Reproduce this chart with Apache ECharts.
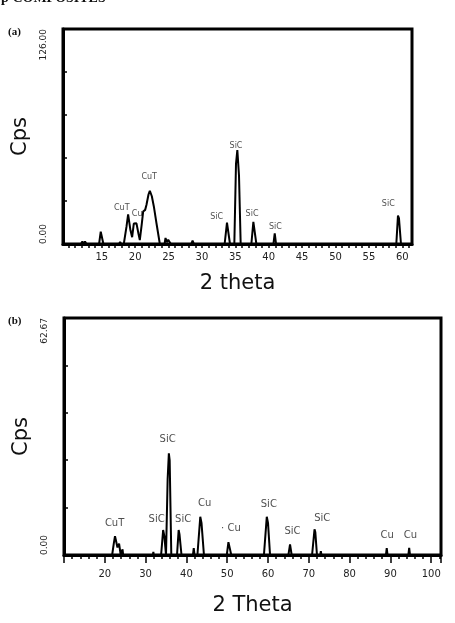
<!DOCTYPE html>
<html>
<head>
<meta charset="utf-8">
<script src="https://cdn.jsdelivr.net/npm/echarts@6/dist/echarts.min.js"></script>
<style>
  html, body { margin: 0; padding: 0; background: #fff; }
  #xrd { width: 455px; height: 623px; }
</style>
</head>
<body>
<div id="xrd"></div>
<script>
// ---- panel (a) pattern ----
var thetaA = [9.2, 11.9, 12.1, 12.3, 12.5, 12.7,
    14.6, 14.85, 15.0, 15.25,
    17.6, 17.75, 17.9,
    18.3, 18.7, 18.95, 19.3, 19.55, 19.8, 20.0, 20.2, 20.5, 20.7, 21.0, 21.2, 21.5, 21.7, 22.0, 22.2, 22.5, 22.8, 23.2, 23.7,
    24.4, 24.55, 24.75, 24.95, 25.15, 25.35,
    28.4, 28.6, 28.8,
    33.4, 33.75, 33.95, 34.2,
    34.85, 35.1, 35.3, 35.55, 35.8,
    37.4, 37.7, 37.85, 38.15,
    40.7, 40.9, 41.1,
    59.1, 59.35, 59.5, 59.8, 61.45];
var cpsA = [0, 0, 1.5, 0, 1.5, 0,
    0, 7.2, 6.5, 0,
    0, 1.2, 0,
    0, 10, 17.4, 8, 4, 12, 11.5, 12.1, 6, 2.3, 12, 19, 20, 23, 29, 31.2, 28, 22, 12, 0,
    0, 3.5, 1, 2.5, 3.5, 0,
    0, 2, 0,
    0, 12.5, 13, 0,
    0, 47, 55, 40, 0,
    0, 13, 12, 0,
    0, 6.3, 0,
    0, 16.6, 15, 0, 0];

var peakNamesA = ['CuT', 'Cu', 'CuT', 'SiC', 'SiC', 'SiC', 'SiC', 'SiC'];
var peakXA = [18.0, 20.3, 22.1, 32.2, 35.1, 37.5, 41.0, 57.9];
var peakYA = [20.9, 17.6, 39.1, 15.6, 57.4, 17.6, 9.8, 23.3];

// ---- panel (b) pattern ----
var thetaB = [10, 21.8, 22.2, 22.5, 22.8, 23.1, 23.5, 23.9, 24.2, 24.35, 24.5,
    31.8, 31.9, 32.0,
    33.8, 34.3, 34.6, 35.0, 35.4, 35.7, 35.9, 36.3,
    37.7, 38.1, 38.3, 38.8,
    41.6, 41.8, 42.0,
    42.7, 43.4, 43.7, 44.3,
    49.9, 50.3, 50.5, 51.0,
    59.0, 59.7, 60.0, 60.5,
    65.0, 65.4, 65.8,
    70.8, 71.4, 71.6, 72.0,
    72.8, 72.95, 73.1,
    88.9, 89.1, 89.3,
    94.4, 94.6, 94.8,
    102.4];
var cpsB = [0, 0, 3, 5, 3.5, 2, 3, 0, 0, 1.5, 0,
    0, 0.8, 0,
    0, 6.6, 5, 0, 20, 26.9, 25, 0,
    0, 6.6, 5.5, 0,
    0, 1.8, 0,
    0, 10.1, 8.5, 0,
    0, 3.4, 3, 0,
    0, 10.1, 8.5, 0,
    0, 2.8, 0,
    0, 6.8, 6, 0,
    0, 1, 0,
    0, 1.8, 0,
    0, 1.9, 0,
    0];

var peakNamesB = ['CuT', 'SiC', 'SiC', 'SiC', 'Cu', '· Cu', 'SiC', 'SiC', 'SiC', 'Cu', 'Cu'];
var peakXB = [22.4, 32.7, 35.4, 39.2, 44.5, 50.9, 60.2, 66.0, 73.3, 89.2, 94.9];
var peakYB = [8.4, 9.3, 30.6, 9.3, 13.7, 7.1, 13.3, 6.2, 9.7, 5.1, 5.1];

// tick positions
var labelsA = [15, 20, 25, 30, 35, 40, 45, 50, 55, 60];
var minorA = [];
for (var t = 10; t <= 61; t++) minorA.push(t);
var labelsB = [20, 30, 40, 50, 60, 70, 80, 90, 100];
var yMaxA = 126;
var yMaxB = 62.67;

function zip(xs, ys) {
    var out = [];
    for (var i = 0; i < xs.length; i++) out.push([xs[i], ys[i]]);
    return out;
}
function tags(names, xs, ys) {
    var out = [];
    for (var i = 0; i < names.length; i++) out.push({ name: names[i], value: [xs[i], ys[i]] });
    return out;
}

var font = 'DejaVu Sans';
var xrd = echarts.init(document.getElementById('xrd'));

var option = {
    backgroundColor: '#fff',
    animation: false,
    graphic: [
        { type: 'text', left: -9, top: -9, style: { text: 'Cp COMPOSITES', font: 'bold 14px "Liberation Serif"', fill: '#111' } },
        { type: 'text', left: 8, top: 27, style: { text: '(a)', font: 'bold 11px "Liberation Serif"', fill: '#111' } },
        { type: 'text', left: 8, top: 316, style: { text: '(b)', font: 'bold 11px "Liberation Serif"', fill: '#111' } }
    ],
    grid: [
        { left: 63, top: 29, width: 349, height: 215, show: true, borderColor: '#000', borderWidth: 3 },
        { left: 64, top: 318, width: 377, height: 237, show: true, borderColor: '#000', borderWidth: 3 }
    ],
    xAxis: [
        {
            gridIndex: 0, type: 'value', min: 9.2, max: 61.45,
            name: '2 theta', nameLocation: 'middle', nameGap: 29,
            nameTextStyle: { fontFamily: font, fontSize: 21, color: '#111' },
            axisLine: { show: true, onZero: false, lineStyle: { color: '#000', width: 3 } },
            axisTick: { show: true, customValues: minorA, length: 4, lineStyle: { color: '#000', width: 1.5 } },
            axisLabel: { customValues: labelsA, fontFamily: font, fontSize: 10, color: '#222', margin: 8 },
            splitLine: { show: false }
        },
        {
            gridIndex: 0, type: 'value', min: 9.2, max: 61.45, position: 'top',
            axisLine: { show: false },
            axisTick: { show: true, inside: true, customValues: labelsA, length: 4, lineStyle: { color: '#000', width: 1.5 } },
            axisLabel: { show: false },
            splitLine: { show: false }
        },
        {
            gridIndex: 1, type: 'value', min: 10, max: 102.4, interval: 10,
            name: '2 Theta', nameLocation: 'middle', nameGap: 40,
            nameTextStyle: { fontFamily: font, fontSize: 21, color: '#111' },
            axisLine: { show: true, onZero: false, lineStyle: { color: '#000', width: 3 } },
            axisTick: { show: true, length: 8, lineStyle: { color: '#000', width: 1.5 } },
            minorTick: { show: true, splitNumber: 5, length: 4, lineStyle: { color: '#000', width: 1.5 } },
            axisLabel: { customValues: labelsB, fontFamily: font, fontSize: 10, color: '#222', margin: 14 },
            splitLine: { show: false }
        },
        {
            gridIndex: 1, type: 'value', min: 10, max: 102.4, position: 'top',
            axisLine: { show: false },
            axisTick: { show: true, inside: true, customValues: labelsB, length: 5, lineStyle: { color: '#000', width: 1.5 } },
            axisLabel: { show: false },
            splitLine: { show: false }
        }
    ],
    yAxis: [
        {
            gridIndex: 0, type: 'value', min: 0, max: yMaxA, interval: yMaxA / 5,
            name: 'Cps', nameLocation: 'middle', nameGap: 28, nameRotate: 90,
            nameTextStyle: { fontFamily: font, fontSize: 21, color: '#111' },
            axisLine: { show: true, lineStyle: { color: '#000', width: 3 } },
            axisTick: { show: true, inside: true, length: 4, lineStyle: { color: '#000', width: 1.5 } },
            axisLabel: {
                customValues: [0, yMaxA], rotate: 90, margin: 15,
                alignMinLabel: 'left', alignMaxLabel: 'right',
                fontFamily: font, fontSize: 9, color: '#222',
                formatter: function (v) { return v.toFixed(2); }
            },
            splitLine: { show: false }
        },
        {
            gridIndex: 1, type: 'value', min: 0, max: yMaxB, interval: yMaxB / 5,
            name: 'Cps', nameLocation: 'middle', nameGap: 28, nameRotate: 90,
            nameTextStyle: { fontFamily: font, fontSize: 21, color: '#111' },
            axisLine: { show: true, lineStyle: { color: '#000', width: 3 } },
            axisTick: { show: true, inside: true, length: 4, lineStyle: { color: '#000', width: 1.5 } },
            axisLabel: {
                customValues: [0, yMaxB], rotate: 90, margin: 15,
                alignMinLabel: 'left', alignMaxLabel: 'right',
                fontFamily: font, fontSize: 9, color: '#222',
                formatter: function (v) { return v.toFixed(2); }
            },
            splitLine: { show: false }
        }
    ],
    series: [
        {
            name: 'a', type: 'line', xAxisIndex: 0, yAxisIndex: 0,
            data: zip(thetaA, cpsA), showSymbol: false, smooth: false,
            lineStyle: { color: '#000', width: 2 }
        },
        {
            name: 'a peaks', type: 'scatter', xAxisIndex: 0, yAxisIndex: 0,
            data: tags(peakNamesA, peakXA, peakYA), symbolSize: 0, silent: true,
            label: { show: true, position: 'inside', formatter: '{b}', fontFamily: font, fontSize: 8, color: '#222' }
        },
        {
            name: 'b', type: 'line', xAxisIndex: 2, yAxisIndex: 1,
            data: zip(thetaB, cpsB), showSymbol: false, smooth: false,
            lineStyle: { color: '#000', width: 2 }
        },
        {
            name: 'b peaks', type: 'scatter', xAxisIndex: 2, yAxisIndex: 1,
            data: tags(peakNamesB, peakXB, peakYB), symbolSize: 0, silent: true,
            label: { show: true, position: 'inside', formatter: '{b}', fontFamily: font, fontSize: 10, color: '#222' }
        }
    ]
};

xrd.setOption(option);
</script>
</body>
</html>
